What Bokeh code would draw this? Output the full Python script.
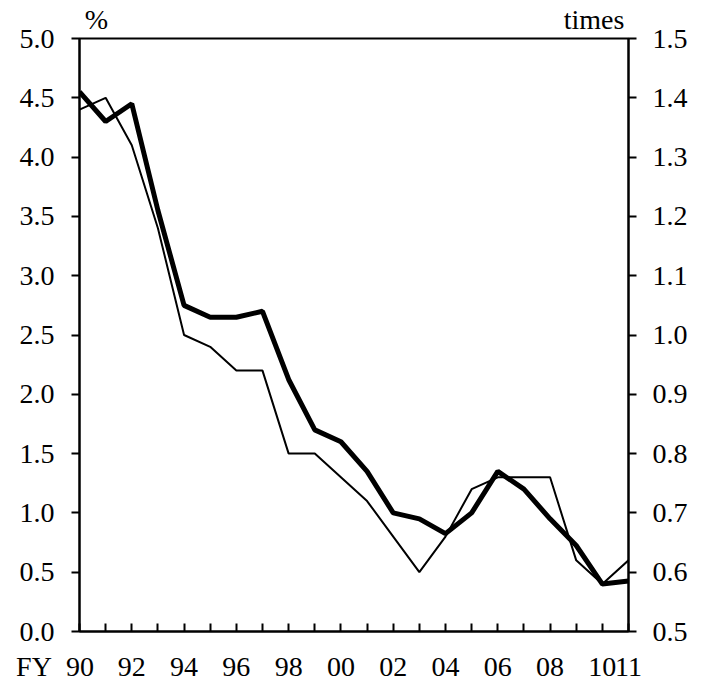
from bokeh.plotting import figure
from bokeh.models import (Range1d, LinearAxis, FixedTicker, NumeralTickFormatter)
from bokeh.embed import file_html
from bokeh.resources import INLINE

years = list(range(1990, 2012))
rate_pct = [4.4, 4.5, 4.1, 3.4, 2.5, 2.4, 2.2, 2.2, 1.5, 1.5, 1.3, 1.1, 0.8, 0.5, 0.8, 1.2, 1.3, 1.3, 1.3, 0.6, 0.4, 0.6]
ratio_times = [1.41, 1.36, 1.39, 1.21, 1.05, 1.03, 1.03, 1.04, 0.925, 0.84, 0.82, 0.77, 0.70, 0.69, 0.665, 0.70, 0.77, 0.74, 0.69, 0.645, 0.58, 0.585]
left_ticks = [0.0, 0.5, 1.0, 1.5, 2.0, 2.5, 3.0, 3.5, 4.0, 4.5, 5.0]
right_ticks = [0.5, 0.6, 0.7, 0.8, 0.9, 1.0, 1.1, 1.2, 1.3, 1.4, 1.5]
NB = "\u00a0"
x_labels = {1990: "FY" + NB * 2 + "90" + NB * 7, 1992: "92", 1994: "94", 1996: "96", 1998: "98",
            2000: "00", 2002: "02", 2004: "04", 2006: "06", 2008: "08", 2010: "10", 2011: "11"}
unit_label_pos = [1990.65, 2009.68]
unit_labels = ["%", "times"]

FONT = "Liberation Serif"
FS = "28px"

p = figure(width=700, height=684, output_backend="svg", toolbar_location=None,
           x_range=Range1d(1990, 2011), y_range=Range1d(0, 5),
           min_border_left=79, min_border_right=72, min_border_top=38, min_border_bottom=51)
p.extra_y_ranges = {"right": Range1d(0.5, 1.5)}
p.grid.visible = False
p.outline_line_color = "black"
p.outline_line_width = 2
p.background_fill_color = "white"
p.border_fill_color = "white"

# x axis
xa = p.xaxis[0]
xa.ticker = FixedTicker(ticks=years, minor_ticks=[])
xa.major_label_overrides = {y: x_labels.get(y, "") for y in years}
xa.major_tick_in = 8
xa.major_tick_out = 0
xa.major_tick_line_width = 2
xa.axis_line_width = 2
xa.major_label_standoff = 19
xa.major_label_text_font = FONT
xa.major_label_text_font_size = FS
xa.major_label_text_color = "black"

# top axis carrying only the unit captions
ta = LinearAxis()
ta.ticker = FixedTicker(ticks=unit_label_pos, minor_ticks=[])
ta.major_label_overrides = dict(zip(unit_label_pos, unit_labels))
ta.major_tick_in = 0
ta.major_tick_out = 0
ta.axis_line_color = None
ta.major_tick_line_color = None
ta.major_label_standoff = 4
ta.major_label_text_font = FONT
ta.major_label_text_font_size = FS
ta.major_label_text_color = "black"
p.add_layout(ta, "above")

# left y axis
ya = p.yaxis[0]
ya.ticker = FixedTicker(ticks=left_ticks, minor_ticks=[])
ya.formatter = NumeralTickFormatter(format="0.0")
ya.major_tick_in = 0
ya.major_tick_out = 8
ya.major_tick_line_width = 2
ya.axis_line_width = 2
ya.major_label_standoff = 17
ya.major_label_text_font = FONT
ya.major_label_text_font_size = FS
ya.major_label_text_color = "black"

# right y axis
ra = LinearAxis(y_range_name="right")
ra.ticker = FixedTicker(ticks=right_ticks, minor_ticks=[])
ra.formatter = NumeralTickFormatter(format="0.0")
ra.major_tick_in = 0
ra.major_tick_out = 8
ra.major_tick_line_width = 2
ra.axis_line_width = 2
ra.major_label_standoff = 16
ra.major_label_text_font = FONT
ra.major_label_text_font_size = FS
ra.major_label_text_color = "black"
p.add_layout(ra, "right")

p.line(years, rate_pct, line_color="black", line_width=2)
p.line(years, ratio_times, line_color="black", line_width=5, y_range_name="right")

open("out.html", "w").write(file_html(p, INLINE))
